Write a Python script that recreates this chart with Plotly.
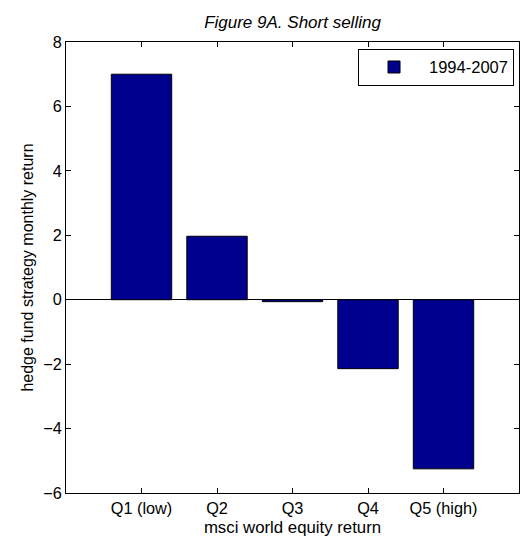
import plotly.graph_objects as go

# Quintiles of MSCI world equity return and the strategy's average monthly return in each
categories = ["Q1 (low)", "Q2", "Q3", "Q4", "Q5 (high)"]
positions = [1, 2, 3, 4, 5]
returns_1994_2007 = [7.0, 1.97, -0.06, -2.14, -5.25]
y_ticks = [-6, -4, -2, 0, 2, 4, 6, 8]

FONT = "Liberation Sans, Arial, sans-serif"

fig = go.Figure()
fig.add_trace(go.Bar(
    x=positions,
    y=returns_1994_2007,
    width=0.8,
    name="1994-2007",
    marker=dict(color="rgb(0,0,143)", line=dict(color="black", width=1)),
))

fig.update_layout(
    width=529,
    height=543,
    margin=dict(l=66, r=10, t=42, b=50),
    paper_bgcolor="white",
    plot_bgcolor="white",
    font=dict(family=FONT, size=16, color="black"),
    title=dict(
        text="<i>Figure 9A. Short selling</i>",
        x=(66 + 519) / 2 / 529, xanchor="center",
        y=1 - 22 / 543, yanchor="middle",
        font=dict(family=FONT, size=17, color="black"),
    ),
    showlegend=True,
    legend=dict(
        x=0.989, xanchor="right", y=0.985, yanchor="top",
        bordercolor="black", borderwidth=1, bgcolor="white",
        itemwidth=60,
        font=dict(family=FONT, size=16.5, color="black"),
    ),
    bargap=0.2,
)

fig.update_xaxes(
    range=[0, 6],
    tickmode="array", tickvals=positions, ticktext=categories,
    ticks="inside", ticklen=5, tickcolor="black",
    showline=True, linecolor="black", linewidth=1, mirror="ticks",
    showgrid=False, zeroline=False,
    title=dict(text="msci world equity return", standoff=5,
               font=dict(family=FONT, size=16.8)),
    tickfont=dict(family=FONT, size=16.3),
)
fig.update_yaxes(
    range=[-6, 8],
    tickmode="array", tickvals=y_ticks,
    ticks="inside", ticklen=5, tickcolor="black",
    showline=True, linecolor="black", linewidth=1, mirror="ticks",
    showgrid=False,
    zeroline=True, zerolinecolor="black", zerolinewidth=1,
    title=dict(text="hedge fund strategy monthly return", standoff=5,
               font=dict(family=FONT, size=16)),
    tickfont=dict(family=FONT, size=16.3),
)

fig.write_html("out.html")
